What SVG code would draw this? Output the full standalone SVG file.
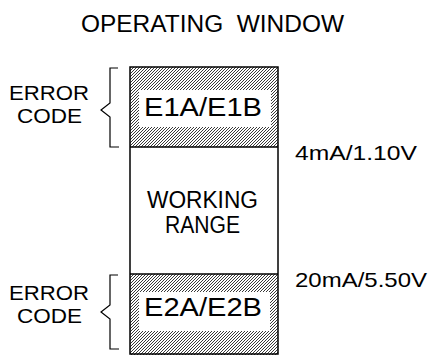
<svg xmlns="http://www.w3.org/2000/svg" width="433" height="355" viewBox="0 0 433 355">
<style>
text{font-family:"Liberation Sans",Arial,sans-serif;fill:#000;}
.lbl{font-size:23px;}
.ec{font-size:20.5px;}
.big{font-size:26px;}
.val{font-size:21px;}
.br{fill:none;stroke:#000;stroke-width:1.2;}
.box{fill:none;stroke:#000;stroke-width:1.5;}
</style>
<defs>
<pattern id="hatch" patternUnits="userSpaceOnUse" width="3" height="3">
<rect width="3" height="3" fill="#fff"/>
<path d="M-1,1 L1,-1 M0,3 L3,0 M2,4 L4,2" stroke="#222" stroke-width="0.9"/>
</pattern>
</defs>
<rect width="433" height="355" fill="#fff"/>
<text x="81" y="32" class="lbl" textLength="263" lengthAdjust="spacingAndGlyphs" xml:space="preserve">OPERATING  WINDOW</text>
<g id="error-top">
<rect x="130" y="67" width="148" height="80" fill="url(#hatch)"/>
<rect x="139" y="90" width="132" height="37" fill="#fff"/>
<text x="144" y="116" class="big" textLength="118" lengthAdjust="spacingAndGlyphs">E1A/E1B</text>
</g>
<g id="working">
<text x="147" y="208" class="lbl" textLength="111" lengthAdjust="spacingAndGlyphs">WORKING</text>
<text x="165" y="233" class="lbl" textLength="75" lengthAdjust="spacingAndGlyphs">RANGE</text>
</g>
<g id="error-bottom">
<rect x="130" y="274" width="148" height="81" fill="url(#hatch)"/>
<rect x="139" y="292" width="131" height="39" fill="#fff"/>
<text x="144" y="316" class="big" textLength="118" lengthAdjust="spacingAndGlyphs">E2A/E2B</text>
</g>
<g id="frame">
<rect x="130" y="67" width="148" height="287" class="box"/>
<line x1="130" y1="147" x2="278" y2="147" class="box"/>
<line x1="130" y1="274" x2="278" y2="274" class="box"/>
</g>
<g id="label-top">
<text x="9" y="100" class="ec" textLength="80" lengthAdjust="spacingAndGlyphs">ERROR</text>
<text x="17" y="123" class="ec" textLength="65" lengthAdjust="spacingAndGlyphs">CODE</text>
</g>
<g id="label-bottom">
<text x="9" y="300" class="ec" textLength="80" lengthAdjust="spacingAndGlyphs">ERROR</text>
<text x="17" y="323" class="ec" textLength="65" lengthAdjust="spacingAndGlyphs">CODE</text>
</g>
<g id="values">
<text x="295" y="160" class="val" textLength="122" lengthAdjust="spacingAndGlyphs">4mA/1.10V</text>
<text x="295" y="287" class="val" textLength="132" lengthAdjust="spacingAndGlyphs">20mA/5.50V</text>
</g>
<g id="connectors">
<path class="br" d="M118,68 H110 V103 L101,110 L110,117 V147 H119"/>
<path class="br" d="M118,275 H110 V305 L101,312 L110,319 V349 H119"/>
</g>
</svg>
